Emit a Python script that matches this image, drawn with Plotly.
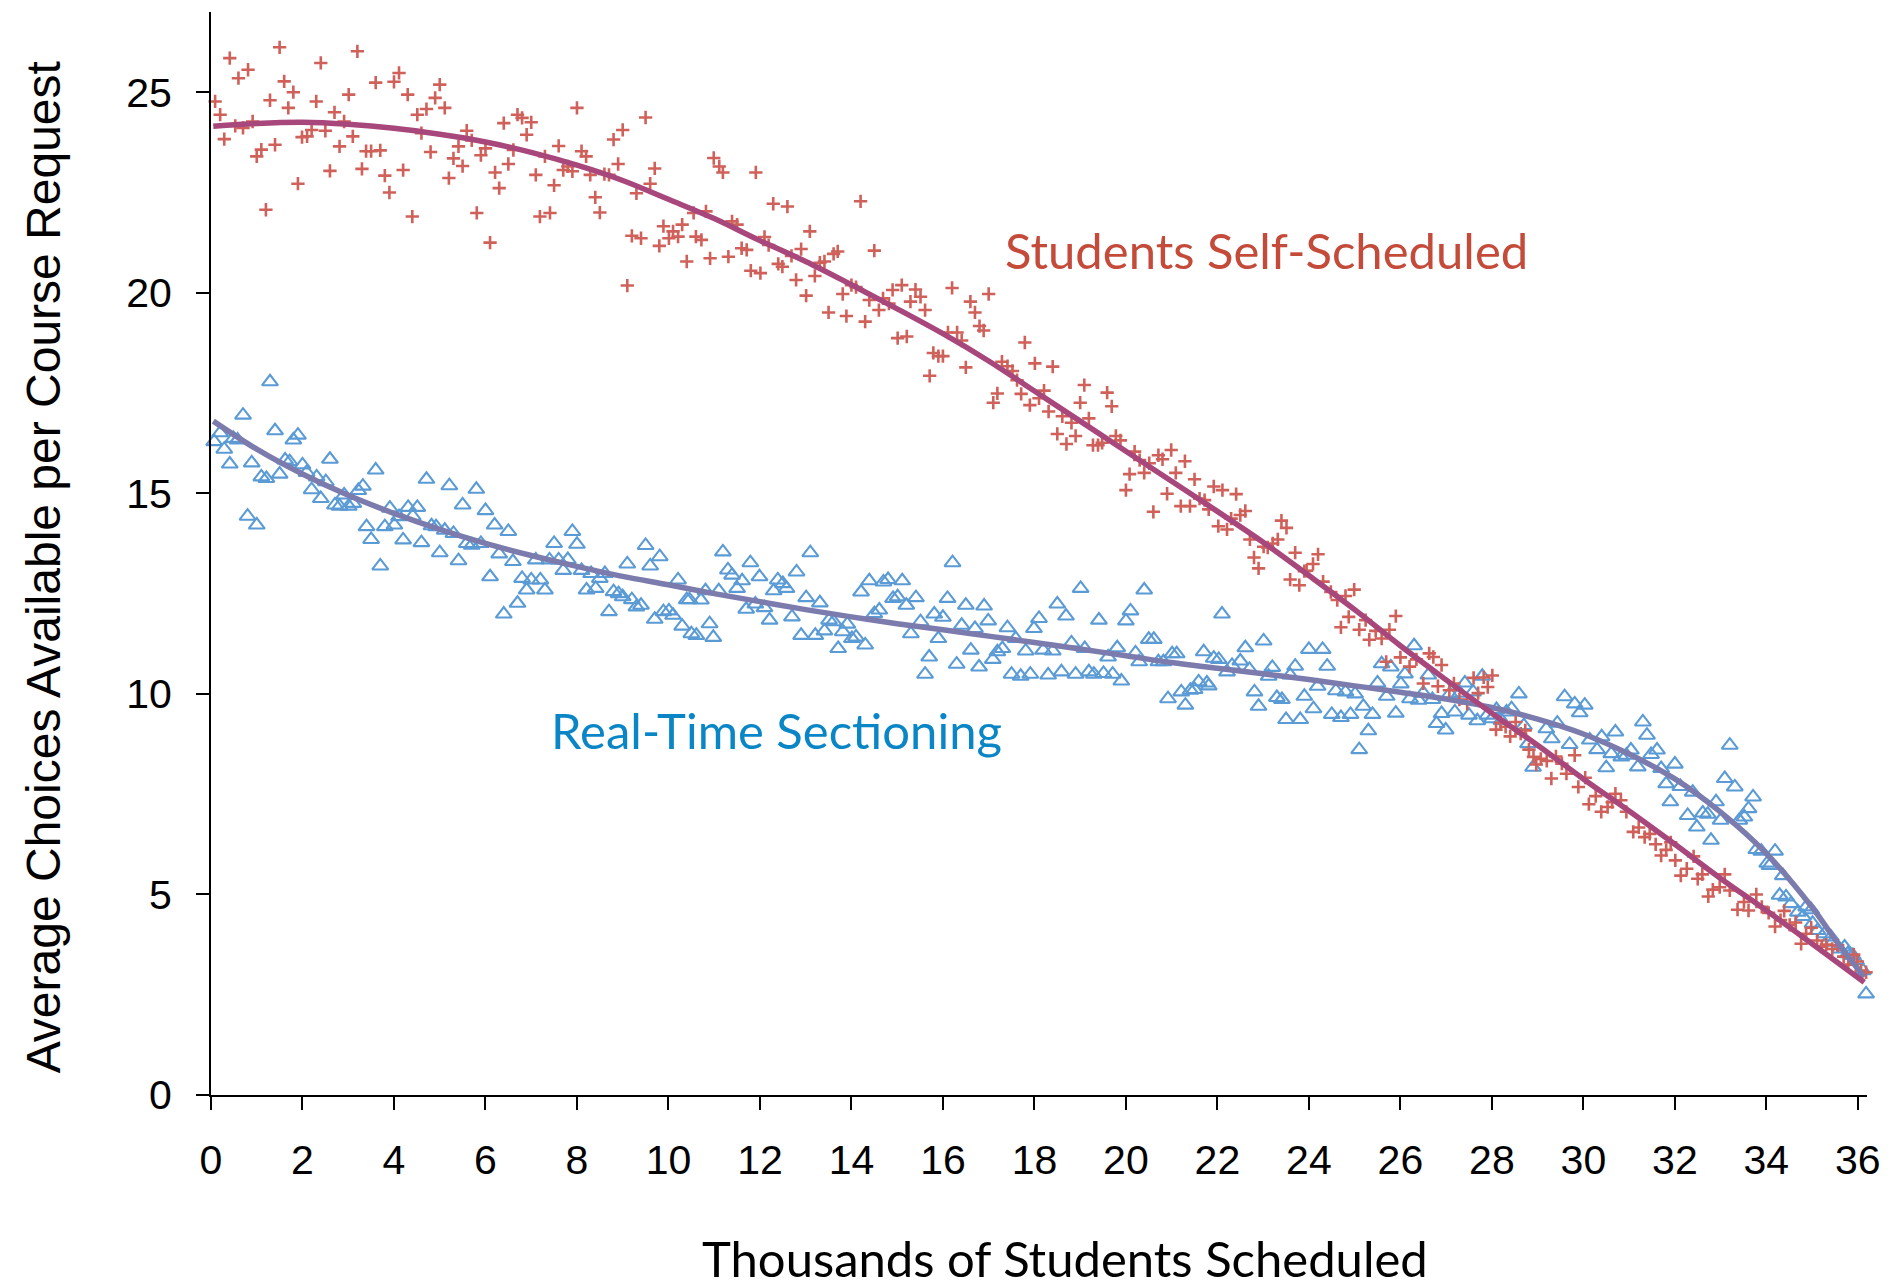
import plotly.graph_objects as go

# ---------------- data ----------------
RED_X = [0.09,0.20,0.29,0.41,0.53,0.60,0.70,0.81,0.91,1.00,1.10,1.20,1.29,1.40,1.50,1.60,1.69,1.80,1.90,1.99,
         2.10,2.20,2.30,2.40,2.50,2.60,2.70,2.81,2.91,3.01,3.10,3.20,3.30,3.39,3.50,3.60,3.70,3.80,3.90,4.00,
         4.11,4.20,4.30,4.40,4.51,4.60,4.71,4.80,4.90,5.00,5.11,5.20,5.30,5.41,5.50,5.59,5.70,5.81,5.90,6.00,
         6.10,6.21,6.30,6.40,6.50,6.61,6.70,6.80,6.90,7.00,7.10,7.19,7.30,7.41,7.50,7.60,7.70,7.80,7.90,8.00,
         8.10,8.20,8.29,8.40,8.50,8.60,8.70,8.80,8.90,9.00,9.10,9.20,9.30,9.40,9.50,9.60,9.70,9.80,9.89,10.01,
         10.10,10.21,10.30,10.40,
         10.55,10.60,10.72,10.82,10.91,10.99,11.11,11.19,11.31,11.39,11.50,11.60,11.71,11.80,11.91,12.01,12.10,
         12.19,12.29,12.40,12.49,12.60,12.69,12.79,12.90,13.01,13.09,13.20,13.31,13.41,13.50,13.61,13.70,13.81,
         13.89,14.00,14.10,14.20,14.30,14.39,14.50,14.60,14.69,14.82,14.90,15.01,15.10,15.21,15.29,15.40,15.51,
         15.61,15.71,15.79,15.90,16.00,16.11,16.20,16.31,16.41,16.50,16.60,16.70,16.80,16.89,17.00,17.10,17.19,
         17.29,17.41,17.52,17.62,17.71,17.79,17.90,18.01,18.10,18.21,18.31,18.40,18.50,18.61,18.70,18.81,18.90,
         19.00,19.09,19.19,19.28,19.39,19.48,19.59,19.69,19.78,19.88,20.00,20.08,20.19,20.30,20.40,20.51,20.60,
         20.71,20.80,20.90,20.99,21.09,21.20,21.29,21.40,21.50,21.61,21.72,21.81,21.92,22.02,22.11,22.21,22.30,
         22.41,22.50,22.61,22.71,22.80,22.90,23.01,23.10,23.21,23.32,23.40,23.51,23.59,23.70,23.79,23.90,
         23.95,24.09,24.20,24.31,24.48,24.62,24.70,24.80,24.87,24.99,25.10,25.24,25.32,25.46,25.59,25.69,25.76,
         25.90,26.00,26.20,26.35,26.50,26.63,26.72,26.82,26.90,27.07,27.17,27.29,27.46,27.60,27.70,27.82,27.91,
         28.01,28.09,28.19,28.30,28.40,28.52,28.63,28.73,28.81,28.91,28.97,29.07,29.20,29.30,29.40,29.53,29.63,
         29.81,29.89,30.04,30.12,30.27,30.39,30.53,30.63,30.70,30.82,30.94,31.09,31.21,31.34,31.45,31.58,31.70,
         31.81,31.91,32.01,32.13,32.26,32.41,32.50,32.60,32.73,32.83,32.98,33.09,33.20,33.37,33.51,33.61,33.78,
         33.90,34.05,34.19,34.31,34.39,34.51,34.64,34.76,34.87,34.98,35.11,35.21,35.31,35.44,35.56,35.69,35.79,
         35.91,35.99,36.07,36.18]
RED_Y = [24.77,24.44,23.83,25.85,24.16,25.35,24.11,25.56,24.27,23.40,23.57,22.07,24.80,23.69,26.12,25.27,24.61,25.00,22.72,23.88,
         23.90,24.06,24.77,25.73,24.04,23.04,24.50,23.65,24.27,24.94,23.90,26.02,23.09,23.53,23.53,25.24,23.55,22.92,22.50,25.26,
         25.48,23.06,24.94,21.90,24.44,23.98,24.58,23.51,24.86,25.19,24.61,22.86,23.35,23.65,23.16,24.04,23.80,21.99,23.43,23.60,
         21.25,23.00,22.61,24.23,23.21,23.56,24.44,24.36,23.94,24.25,22.94,21.90,23.40,21.99,22.68,23.66,23.06,23.15,23.03,24.61,
         23.53,23.40,22.94,22.38,22.00,22.96,22.94,23.82,23.21,24.06,20.18,21.42,22.48,21.36,24.37,22.72,23.10,21.17,21.66,21.36,
         21.53,21.40,21.70,20.78,
         21.99,21.40,21.32,22.03,20.86,23.36,23.15,23.00,20.90,21.78,21.70,21.11,21.07,20.55,23.00,20.49,21.39,
         21.19,22.22,20.72,20.65,22.15,20.92,20.32,21.09,19.93,21.53,20.42,20.75,20.78,19.51,20.97,21.03,19.97,
         19.42,20.19,20.14,22.28,19.28,19.82,21.05,19.57,19.86,19.73,20.07,18.87,20.19,18.91,19.78,20.08,19.90,
         19.57,17.93,18.50,18.42,18.42,19.01,20.12,19.01,18.81,18.14,19.78,19.51,19.17,19.06,19.97,17.26,17.49,
         18.28,18.17,18.05,17.82,17.48,18.76,17.20,18.24,17.37,17.56,17.04,18.16,16.48,16.92,16.23,16.76,16.43,
         17.26,17.70,16.87,16.20,16.20,16.26,17.51,17.17,16.43,16.32,15.08,15.48,16.04,15.83,15.51,15.75,14.54,
         15.95,15.85,14.99,16.08,15.51,14.68,15.80,14.68,15.35,14.87,14.83,14.60,15.17,14.18,15.08,14.10,14.37,
         14.98,14.46,14.56,13.85,13.40,13.13,13.67,13.65,13.75,13.85,14.32,14.14,12.85,13.52,12.71,13.06,
         13.07,13.24,13.48,12.80,12.54,12.34,11.66,12.44,11.92,12.60,11.60,11.84,11.35,11.57,11.38,10.80,11.60,
         11.94,10.91,10.68,10.86,10.26,11.01,10.92,10.19,10.72,10.09,10.26,9.86,9.76,10.40,10.02,10.41,10.17,
         10.46,9.11,9.28,9.18,8.94,9.30,9.01,9.09,8.61,8.43,8.24,8.38,8.33,7.89,8.44,8.26,8.01,
         8.47,7.68,7.91,7.25,7.45,7.06,7.18,7.30,7.51,7.35,7.06,6.56,6.67,6.43,6.51,6.25,5.97,
         6.11,6.30,5.85,5.47,5.64,5.95,5.39,5.50,4.95,5.12,5.18,5.50,5.10,4.62,4.81,4.60,5.00,
         4.69,4.54,4.20,4.36,4.59,4.24,4.30,3.77,4.02,4.17,3.85,3.70,3.75,3.64,3.73,3.45,3.25,
         3.50,3.33,3.10,3.06]

BLUE_X = [0.07,0.20,0.29,0.41,0.49,0.58,0.70,0.80,0.89,1.00,1.10,1.21,1.29,1.40,1.50,1.62,1.72,1.80,1.90,2.00,
          2.09,2.20,2.31,2.40,2.51,2.60,2.71,2.81,2.91,3.01,3.11,3.22,3.32,3.40,3.50,3.60,3.70,3.80,3.91,4.01,
          4.11,4.20,4.31,4.41,4.51,4.60,4.71,4.82,4.92,5.00,5.11,5.21,5.30,5.41,5.50,5.59,5.70,5.80,5.90,6.00,
          6.10,6.20,6.30,6.40,6.50,6.60,6.70,6.80,6.90,7.00,7.10,7.20,7.30,7.40,7.50,7.60,7.70,7.80,7.90,8.00,
          8.10,8.21,8.31,8.41,8.50,8.61,8.70,8.80,8.91,9.00,9.10,9.20,9.30,9.40,9.50,9.60,9.70,9.81,9.89,10.01,
          10.10,10.21,10.30,10.40,
          10.46,10.50,10.61,10.71,10.81,10.90,10.98,11.10,11.19,11.30,11.39,11.50,11.61,11.70,11.79,11.90,11.99,
          12.10,12.21,12.30,12.39,12.50,12.58,12.70,12.80,12.90,13.01,13.10,13.21,13.31,13.41,13.51,13.61,13.71,
          13.81,13.91,14.01,14.10,14.21,14.30,14.39,14.50,14.61,14.70,14.80,14.91,15.01,15.11,15.20,15.30,15.41,
          15.51,15.61,15.70,15.81,15.90,16.00,16.10,16.21,16.30,16.41,16.50,16.61,16.70,16.79,16.90,16.99,17.09,
          17.19,17.30,17.41,17.50,17.59,17.70,17.81,17.91,17.99,18.10,18.19,18.30,18.40,18.50,18.59,18.69,18.81,
          18.90,19.01,19.10,19.19,19.30,19.41,19.51,19.61,19.71,19.81,19.90,20.00,20.10,20.21,20.29,20.40,20.50,
          20.61,20.71,20.82,20.92,21.01,21.11,21.21,21.30,21.41,21.50,21.59,21.70,21.77,
          21.81,21.92,22.03,22.10,22.21,22.32,22.50,22.61,22.70,22.81,22.90,23.01,23.12,23.20,23.30,23.41,23.50,
          23.59,23.70,23.81,23.90,24.00,24.10,24.19,24.30,24.40,24.50,24.59,24.70,24.80,24.91,25.01,25.10,25.19,
          25.30,25.39,25.50,25.59,25.70,25.79,25.90,26.01,26.10,26.21,26.30,26.40,26.50,26.61,26.70,26.79,26.90,
          26.99,27.08,27.19,27.30,27.41,27.50,27.59,27.68,27.79,27.90,28.00,28.10,28.21,28.32,28.43,28.59,28.70,
          28.79,28.90,29.19,29.31,29.43,29.59,29.70,29.81,29.92,30.03,30.14,30.30,30.40,30.50,30.61,30.70,30.83,
          30.94,31.04,31.19,31.30,31.39,31.48,31.61,31.70,31.81,31.90,32.00,32.12,32.28,32.39,32.48,32.61,32.72,
          32.79,32.90,
          33.00,33.09,33.20,33.31,33.41,33.52,33.61,33.71,33.78,33.89,34.02,34.07,34.19,34.29,34.36,34.43,34.54,
          34.69,34.80,34.87,34.98,35.01,35.12,35.27,35.41,35.45,35.60,35.71,35.78,35.89,35.96,36.11,36.18]
BLUE_Y = [16.29,16.51,16.10,15.73,16.37,16.33,16.95,14.43,15.76,14.21,15.41,15.37,17.78,16.56,15.48,15.83,15.79,16.33,16.45,15.71,
          15.52,15.09,15.41,14.87,15.29,15.85,14.71,14.68,14.96,14.68,14.75,15.07,15.18,14.17,13.85,15.58,13.19,14.17,14.63,14.21,
          14.42,13.84,14.65,14.43,14.65,13.77,15.35,14.19,14.17,13.52,14.08,15.19,14.00,13.32,14.71,13.75,13.71,15.10,13.75,14.57,
          12.92,14.21,13.49,11.99,14.05,13.30,12.26,12.88,12.59,12.84,13.34,12.84,12.59,13.34,13.75,13.34,13.08,13.35,14.05,13.73,
          13.08,12.59,13.00,12.63,12.88,13.00,12.05,12.55,12.50,12.42,13.24,12.35,12.17,12.21,13.70,13.19,11.86,13.42,12.05,12.07,
          11.96,12.84,11.69,12.35,
          12.35,11.50,11.46,12.34,12.57,11.75,11.41,12.57,13.54,13.09,12.96,12.63,12.82,12.11,13.27,12.24,12.92,
          12.15,11.84,12.57,12.84,12.75,12.63,11.92,13.04,11.46,12.40,13.52,11.46,12.27,11.57,11.84,11.80,11.13,
          11.55,11.74,11.38,11.42,12.54,11.22,12.82,12.00,12.09,12.79,12.85,12.38,12.42,12.82,12.21,11.50,12.40,
          11.80,10.49,10.92,11.99,11.38,11.91,12.38,13.27,10.74,11.71,12.21,11.09,11.63,10.67,12.19,11.82,10.86,
          11.05,11.13,11.65,10.49,11.38,10.44,11.07,10.49,11.63,11.88,11.09,10.47,11.07,12.24,10.55,11.94,11.27,
          10.49,12.63,11.13,10.55,10.49,11.84,10.51,10.92,10.49,11.15,10.32,11.82,12.07,11.02,10.80,12.59,11.36,
          11.36,10.80,10.80,9.88,11.00,11.00,10.05,9.72,10.09,10.11,10.30,11.05,10.27,
          10.20,10.89,10.86,11.99,10.55,10.71,10.82,11.15,10.61,10.05,9.69,11.32,10.44,10.66,9.91,9.86,9.36,
          10.47,10.69,9.36,9.94,11.11,9.63,10.19,11.11,10.69,9.49,10.08,9.41,10.05,9.49,10.00,8.61,9.69,
          9.08,9.49,10.27,10.75,9.94,10.67,9.52,10.25,10.50,9.88,11.20,9.84,10.02,10.47,9.86,9.26,9.51,
          9.10,10.00,9.55,10.02,10.27,9.47,10.05,9.33,10.44,9.47,9.38,9.61,9.34,9.55,9.63,10.00,9.21,
          8.76,8.17,9.13,8.88,9.27,9.93,8.74,9.75,9.53,9.72,8.85,8.61,8.93,8.16,8.51,9.05,8.43,
          8.47,8.60,8.18,9.30,8.97,8.49,8.60,8.14,7.76,7.31,8.25,7.69,6.97,7.55,6.68,7.03,7.00,
          6.35,7.31,
          6.85,7.89,8.72,7.68,6.85,6.93,7.14,7.43,6.12,6.08,5.78,5.72,6.08,4.98,5.47,4.94,4.77,
          4.56,4.45,4.69,4.62,4.28,4.10,4.02,3.94,3.81,3.64,3.69,3.52,3.48,3.35,3.10,2.52]

# trendlines
RED_TREND_X = [0.05,1,2,3,4,5,6,7,8,9,10,11,12,13,14,15,16,17,18,19,20,21,22,23,24,25,26,27,28,29,30,31,32,33,34,35,36.14]
RED_TREND_Y = [24.15,24.22,24.25,24.2,24.1,23.95,23.76,23.5,23.18,22.8,22.33,21.85,21.3,20.78,20.2,19.6,18.98,18.3,17.55,
               16.8,16.05,15.3,14.55,13.78,12.95,12.1,11.2,10.35,9.52,8.72,7.88,7.08,6.25,5.4,4.6,3.77,2.81]
BLUE_TREND_X = [0.05,1,2,3,4,5,6,7,8,9,10,11,12,13,14,15,16,17,18,19,20,21,22,23,24,25,26,27,28,29,30,31,32,33,34,35,35.5,36.14]
BLUE_TREND_Y = [16.8,16.1,15.48,14.95,14.5,14.1,13.75,13.45,13.18,12.93,12.72,12.5,12.3,12.1,11.92,11.75,11.6,11.44,11.28,
                11.12,10.95,10.78,10.64,10.5,10.36,10.2,10.04,9.87,9.66,9.37,9.0,8.5,7.88,7.05,6.02,4.68,3.88,2.94]

X_TICKS = [0,2,4,6,8,10,12,14,16,18,20,22,24,26,28,30,32,34,36]
Y_TICKS = [0,5,10,15,20,25]

X_TITLE = "Thousands of Students Scheduled"
Y_TITLE = "Average Choices Available per Course Request"
RED_LABEL = "Students Self-Scheduled"
BLUE_LABEL = "Real-Time Sectioning"

# ---------------- figure ----------------
fig = go.Figure()
fig.add_trace(go.Scatter(x=BLUE_X, y=BLUE_Y, mode="markers", cliponaxis=False,
                         marker=dict(symbol="triangle-up-open", size=14, color="#5B9BD5",
                                     line=dict(width=2.1, color="#5B9BD5"))))
fig.add_trace(go.Scatter(x=RED_X, y=RED_Y, mode="markers", cliponaxis=False,
                         marker=dict(symbol="cross-thin", size=9.5, color="#D0605A",
                                     line=dict(width=2.6, color="#D0605A"))))
fig.add_trace(go.Scatter(x=BLUE_TREND_X, y=BLUE_TREND_Y, mode="lines", cliponaxis=False,
                         line=dict(color="#7C7BAD", width=5.5, shape="spline", smoothing=1.0)))
fig.add_trace(go.Scatter(x=RED_TREND_X, y=RED_TREND_Y, mode="lines", cliponaxis=False,
                         line=dict(color="#A8477B", width=5.5, shape="spline", smoothing=1.0)))

axis_common = dict(showline=True, linecolor="black", linewidth=2, ticks="outside", ticklen=13,
                   tickwidth=2, tickcolor="black", showgrid=False, zeroline=False,
                   tickfont=dict(family="Liberation Sans, Arial, sans-serif", size=41, color="black"))
fig.update_xaxes(range=[0, 36.2], tickmode="array", tickvals=X_TICKS, ticklabelstandoff=15, **axis_common)
fig.update_yaxes(range=[0, 27], tickmode="array", tickvals=Y_TICKS, ticklabelstandoff=16, **axis_common)

fig.update_layout(
    width=1893, height=1288,
    margin=dict(l=211, r=24, t=12, b=193, pad=0),
    plot_bgcolor="white", paper_bgcolor="white", showlegend=False,
    annotations=[
        dict(text=Y_TITLE, textangle=-90, xref="paper", yref="paper", x=-0.1013, y=0.4875,
             xanchor="center", yanchor="middle", showarrow=False,
             font=dict(family="Liberation Sans, Arial, sans-serif", size=48, color="black")),
        dict(text=X_TITLE, xref="paper", yref="paper", x=0.516, y=-0.1505,
             xanchor="center", yanchor="middle", showarrow=False,
             font=dict(family="Lato, sans-serif", size=49, color="black")),
        dict(text=RED_LABEL, xref="x", yref="y", x=23.08, y=21.07,
             xanchor="center", yanchor="middle", showarrow=False,
             font=dict(family="Lato, sans-serif", size=49, color="#C44A3A")),
        dict(text=BLUE_LABEL, xref="x", yref="y", x=12.37, y=9.1,
             xanchor="center", yanchor="middle", showarrow=False,
             font=dict(family="Lato, sans-serif", size=49, color="#0A86C6")),
    ],
)

fig.write_html("out.html", config={"displayModeBar": False},
               post_script="document.body.style.margin='0';document.body.style.overflow='hidden';")
